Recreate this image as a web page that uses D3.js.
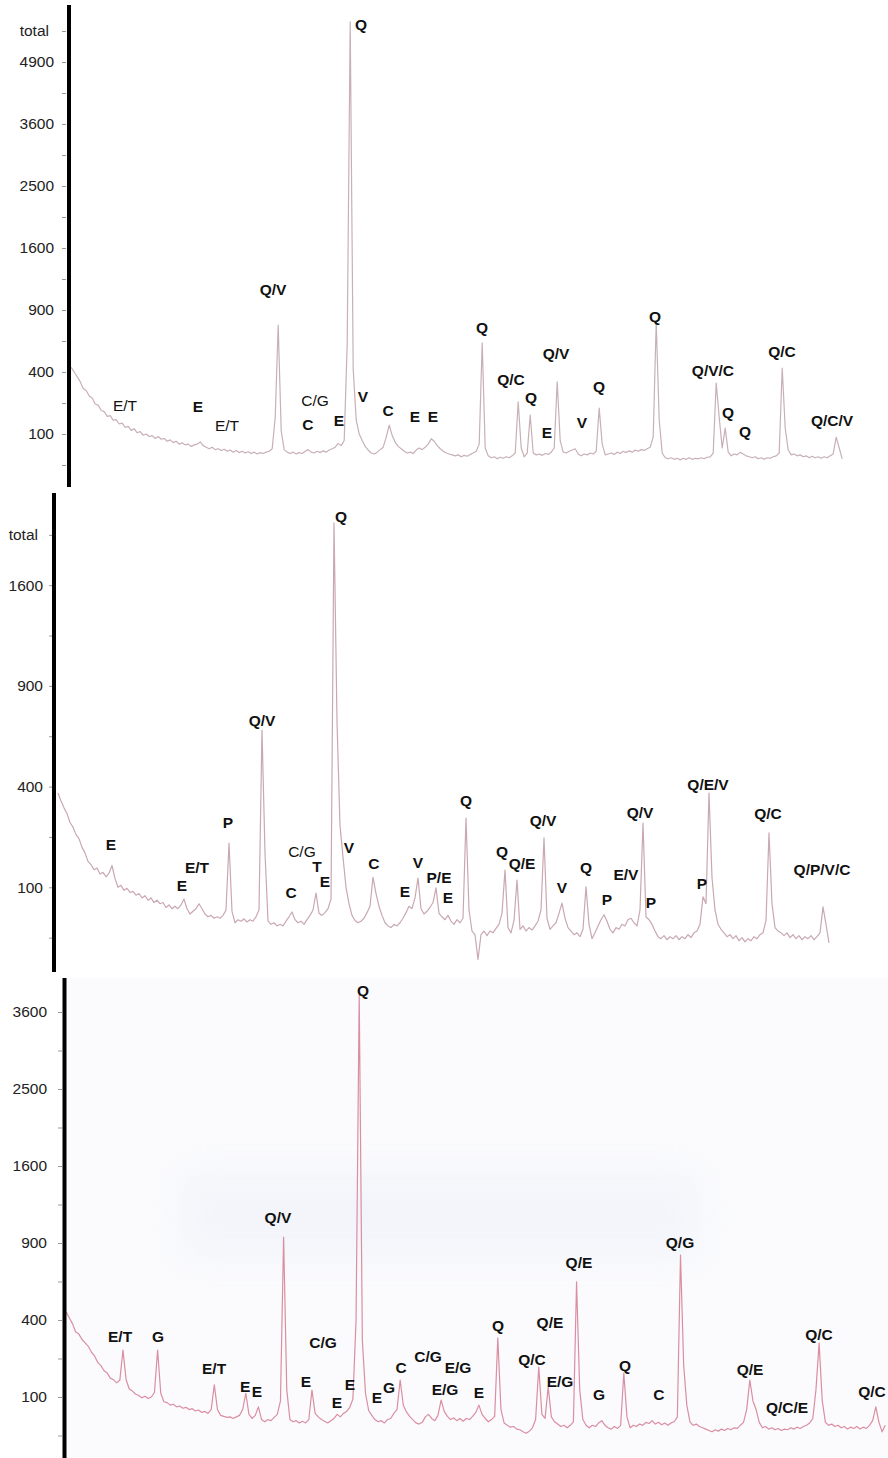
<!DOCTYPE html>
<html>
<head>
<meta charset="utf-8">
<script src="https://cdn.jsdelivr.net/npm/d3@7"></script>
<style>
  body { margin: 0; background: #fff; }
  svg text { font-family: "Liberation Sans", Arial, sans-serif; }
</style>
</head>
<body>
<div id="chart"></div>
<script>
const width = 888, height = 1458;

// diffractograms: counts on a 0.25 deg 2-theta grid
const step = 0.25;
const p1Start = 3.1, p2Start = 3.25, p3Start = 3.1;

const p1Counts = [430,400,370,340,300,290,260,250,220,215,190,185,165,168,150,152,135,138,122,126,
  112,118,104,108,96,100,92,95,86,92,84,86,78,82,74,78,70,74,68,70,64,68,70,76,66,62,58,62,56,58,
  54,57,52,55,50,54,49,52,48,51,47,50,46,49,47,50,52,58,160,760,110,56,50,47,50,46,49,47,52,56,
  50,48,52,49,53,50,55,58,62,72,66,80,600,5850,420,150,100,80,64,55,48,46,50,56,62,90,131,95,75,64,
  58,52,48,50,47,55,60,56,62,70,85,78,66,58,52,48,46,44,42,44,40,43,41,45,48,52,70,610,60,42,
  38,40,36,39,37,40,38,42,48,230,60,40,48,171,48,44,46,43,47,45,50,60,339,80,50,48,52,55,58,46,
  42,46,44,48,46,52,201,70,44,46,48,45,50,47,52,49,53,50,55,52,56,54,58,62,90,787,150,48,38,36,
  38,35,37,34,37,35,38,35,37,36,38,36,39,40,48,332,160,60,120,50,42,46,44,50,46,42,40,38,40,36,
  38,35,38,37,40,42,48,426,120,55,44,46,42,44,40,42,38,41,38,40,37,40,38,42,46,90,60,36];

const p2Counts = [375,345,320,300,270,255,232,220,195,180,158,150,138,142,128,132,122,130,148,118,
  100,104,94,98,90,92,85,88,80,84,76,80,72,76,70,72,64,68,62,66,62,68,78,62,54,58,62,70,62,54,
  50,52,48,50,48,52,60,207,58,42,46,44,47,43,46,44,50,60,656,180,44,40,42,38,40,38,44,50,57,46,
  42,44,40,46,52,60,89,55,52,56,62,78,2134,700,260,169,100,70,52,45,42,44,48,56,66,121,88,66,52,42,
  38,36,40,38,42,48,56,66,62,80,119,62,54,58,64,72,99,55,50,46,52,44,40,46,42,48,285,60,32,28,
  8,28,32,27,32,30,35,40,55,137,36,30,45,115,34,38,32,36,33,38,44,60,222,48,34,38,42,55,71,48,
  36,32,28,30,26,34,101,40,24,30,38,46,53,44,34,30,36,34,40,38,46,48,42,38,60,268,50,46,40,32,
  26,24,27,23,26,24,27,23,26,24,28,25,30,32,40,82,70,375,120,60,40,34,30,26,28,24,27,22,25,21,
  24,22,26,24,28,30,45,237,70,36,32,30,27,30,25,28,24,27,23,26,24,27,23,26,30,65,40,20];

const p3Counts = [442,410,380,340,330,305,290,275,250,235,210,198,180,172,155,150,140,148,259,150,
  122,116,108,104,98,102,96,100,112,259,110,88,86,80,82,76,78,73,75,70,72,67,69,64,66,62,70,134,70,58,
  56,54,55,52,55,58,70,110,60,52,58,76,50,46,50,48,54,60,90,947,120,50,46,48,44,47,44,50,119,62,
  55,50,47,44,48,52,60,55,62,66,75,95,400,3870,300,110,68,58,50,46,48,44,50,52,62,70,149,80,65,56,
  50,44,42,45,55,60,52,48,58,92,66,56,50,53,48,52,47,52,50,56,64,80,60,52,46,50,56,312,70,44,
  40,37,38,34,33,30,28,31,36,50,193,60,52,128,55,46,42,38,40,36,40,46,622,120,50,40,36,40,38,44,
  48,40,36,34,38,35,40,172,55,36,40,38,42,40,45,43,48,42,45,41,44,40,44,46,55,808,200,80,46,40,
  42,38,36,34,32,30,33,31,34,32,35,33,36,35,40,45,70,149,90,70,45,36,38,34,36,33,35,32,34,33,
  36,34,37,35,38,40,44,52,120,289,90,45,40,42,38,40,36,38,34,37,35,38,34,37,35,40,48,76,45,30,40];

// phase labels: [text, 2-theta, counts]
const p1Labels = [["E/T",7.58,188],["E",13.67,184],["E/T",16.08,110],["Q/V",19.92,1051],["C/G",23.42,211],
  ["C",22.83,113],["E",25.42,127],["Q",27.25,5650],["V",27.42,230],["C",29.5,166],["E",31.75,143],
  ["E",33.25,143],["Q",37.33,691],["Q/C",39.75,321],["Q",41.42,225],["E",42.75,87],["Q/V",43.5,488],
  ["V",45.67,120],["Q",47.08,281],["Q",51.75,788],["Q/V/C",56.58,375],["Q",57.83,158],["Q",59.25,91],
  ["Q/C",62.33,503],["Q/C/V",66.5,127]];

const p2Labels = [["E",7.67,188],["E",13.58,93],["E/T",14.83,130],["P",17.42,252],["Q/V",20.25,677],
  ["C/G",23.58,169],["C",22.67,80],["T",24.83,133],["E",25.5,101],["Q",26.83,2142],["V",27.5,180],
  ["C",29.58,140],["E",32.17,82],["V",33.25,142],["P/E",35,109],["E",35.75,71],["Q",37.25,327],
  ["Q",40.25,169],["Q/E",41.92,140],["Q/V",43.67,259],["V",45.25,89],["Q",47.25,130],["P",49,68],
  ["E/V",50.58,115],["Q/V",51.75,285],["P",52.67,63],["P",56.92,97],["Q/E/V",57.42,387],
  ["Q/C",62.42,282],["Q/P/V/C",66.92,126]];

const p3Labels = [["E/T",7.37,294],["G",10.38,294],["E/T",14.83,169],["E",17.29,113],["E",18.24,100],
  ["Q/V",19.9,1063],["E",22.13,128],["C/G",23.48,268],["E",24.59,73],["E",25.62,119],["Q",26.65,3854],
  ["E",27.76,85],["G",28.71,111],["C",29.67,172],["C/G",31.81,212],["E/G",33.16,105],["E/G",34.19,172],
  ["E",35.86,97],["Q",37.37,345],["Q/C",40.06,200],["Q/E",41.49,360],["E/G",42.29,128],["Q/E",43.79,716],
  ["G",45.38,92],["Q",47.44,179],["C",50.14,92],["Q/G",51.81,861],["Q/E",57.37,165],["Q/C/E",60.3,63],
  ["Q/C",62.84,303],["Q/C",67.05,100]];

// y ticks (square-root intensity axis)
const p1TickValues = [25,100,225,400,625,900,1225,1600,2025,2500,3025,3600,4225,4900,5625];
const p1TickLabels = ["","100","","400","","900","","1600","","2500","","3600","","4900","total"];
const p2TickValues = [25,100,225,400,625,900,1225,1600,2025];
const p2TickLabels = ["","100","","400","","900","","1600","total"];
const p3TickValues = [25,100,225,400,625,900,1225,1600,2025,2500,3025,3600];
const p3TickLabels = ["","100","","400","","900","","1600","","2500","","3600"];

const svg = d3.select("#chart")
  .append("svg")
  .attr("width", width)
  .attr("height", height);

// faint scan tint behind the third pattern
const defs = svg.append("defs");
defs.append("filter").attr("id", "blur")
  .attr("x", "-20%").attr("y", "-60%").attr("width", "140%").attr("height", "220%")
  .append("feGaussianBlur").attr("stdDeviation", 18);
svg.append("rect").attr("x", 66).attr("y", 978).attr("width", 822).attr("height", 480)
  .attr("fill", "#fbfbfd");
svg.append("rect").attr("x", 180).attr("y", 1170).attr("width", 520).attr("height", 90)
  .attr("fill", "#e9eef7").attr("opacity", 0.45).attr("filter", "url(#blur)");

const panels = [
  { counts: p1Counts, start: p1Start, labels: p1Labels, ticks: p1TickValues, tickLabels: p1TickLabels,
    xRange: [70, 850], yDomain: [0, 6400], yRange: [496, 0],
    axisX: 69, top: 5, bottom: 487, tickX: 66, pad: 8,
    regular: ["E/T", "C/G"], color: "#c8b0b5" },
  { counts: p2Counts, start: p2Start, labels: p2Labels, ticks: p2TickValues, tickLabels: p2TickLabels,
    xRange: [55, 835], yDomain: [0, 2500], yRange: [988, 484.5],
    axisX: 54, top: 493, bottom: 972, tickX: 53, pad: 6,
    regular: ["C/G"], color: "#c9a8b1" },
  { counts: p3Counts, start: p3Start, labels: p3Labels, ticks: p3TickValues, tickLabels: p3TickLabels,
    xRange: [65, 884], yDomain: [0, 4900], yRange: [1474, 935],
    axisX: 64.5, top: 978, bottom: 1458, tickX: 62, pad: 11,
    regular: [], color: "#da8ea1" }
];

panels.forEach(p => {
  const x = d3.scaleLinear().domain([3, 68]).range(p.xRange);
  const y = d3.scaleSqrt().domain(p.yDomain).range(p.yRange);

  const line = d3.line()
    .x((d, i) => x(p.start + i * step))
    .y(d => y(d));

  svg.append("path")
    .datum(p.counts)
    .attr("fill", "none")
    .attr("stroke", p.color)
    .attr("stroke-width", 1.2)
    .attr("stroke-linejoin", "round")
    .attr("d", line);

  const axis = svg.append("g")
    .attr("transform", `translate(${p.tickX},0)`)
    .call(d3.axisLeft(y)
      .tickValues(p.ticks)
      .tickFormat((d, i) => p.tickLabels[i])
      .tickSize(4)
      .tickPadding(p.pad));
  axis.select(".domain").remove();
  axis.selectAll(".tick line").attr("stroke", "#999");
  axis.selectAll(".tick text")
    .attr("fill", "#222")
    .attr("dx", (d, i) => p.tickLabels[i] === "total" ? -5 : 0)
    .style("font-size", "15.5px");

  svg.append("line")
    .attr("x1", p.axisX).attr("x2", p.axisX)
    .attr("y1", p.top).attr("y2", p.bottom)
    .attr("stroke", "#000")
    .attr("stroke-width", 4);

  svg.append("g")
    .selectAll("text")
    .data(p.labels)
    .join("text")
    .attr("x", d => x(d[1]))
    .attr("y", d => y(d[2]))
    .attr("text-anchor", "middle")
    .attr("fill", "#111")
    .style("font-size", "15.5px")
    .style("font-weight", d => p.regular.includes(d[0]) ? "normal" : "bold")
    .text(d => d[0]);
});
</script>
</body>
</html>
